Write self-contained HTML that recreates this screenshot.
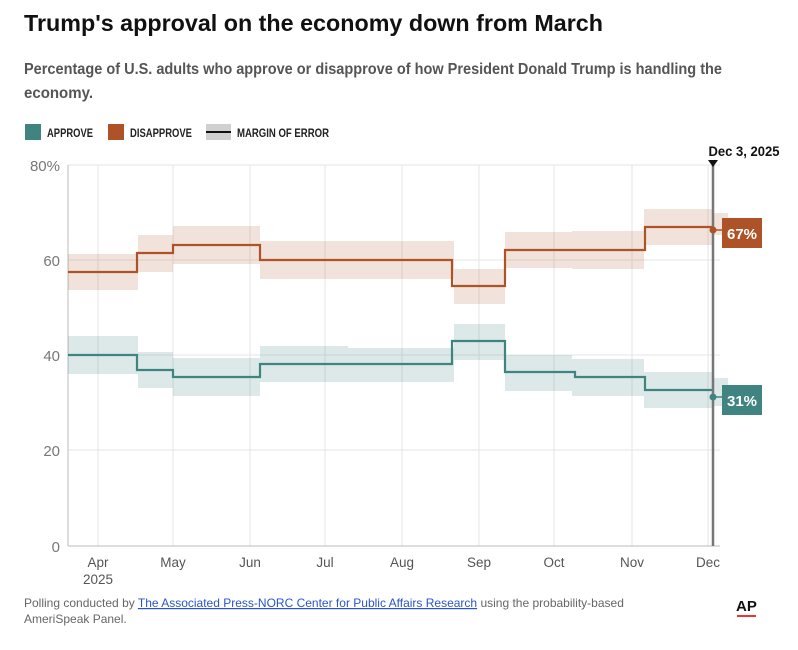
<!DOCTYPE html>
<html><head><meta charset="utf-8"><style>
body{margin:0;background:#fff;width:798px;height:645px;overflow:hidden;font-family:"Liberation Sans",sans-serif}
</style></head><body>
<svg width="798" height="645" xmlns="http://www.w3.org/2000/svg" font-family="Liberation Sans, sans-serif">
<text x="24" y="31" font-size="23" font-weight="bold" fill="#111" textLength="579" lengthAdjust="spacingAndGlyphs">Trump's approval on the economy down from March</text>
<text x="24" y="74" font-size="15.5" font-weight="bold" fill="#555" textLength="698" lengthAdjust="spacingAndGlyphs">Percentage of U.S. adults who approve or disapprove of how President Donald Trump is handling the</text>
<text x="24" y="98" font-size="15.5" font-weight="bold" fill="#555" textLength="69" lengthAdjust="spacingAndGlyphs">economy.</text>
<rect x="25" y="124" width="16" height="16" fill="#3f8480"/>
<text x="47" y="137" font-size="11.5" font-weight="bold" fill="#222" textLength="46" lengthAdjust="spacingAndGlyphs">APPROVE</text>
<rect x="108" y="124" width="16" height="16" fill="#ae5328"/>
<text x="130" y="137" font-size="11.5" font-weight="bold" fill="#222" textLength="62" lengthAdjust="spacingAndGlyphs">DISAPPROVE</text>
<rect x="206" y="124" width="25" height="16" fill="#d0d0d0"/>
<line x1="206" y1="132" x2="231" y2="132" stroke="#111" stroke-width="2"/>
<text x="237" y="137" font-size="11.5" font-weight="bold" fill="#222" textLength="92" lengthAdjust="spacingAndGlyphs">MARGIN OF ERROR</text>
<g stroke="#e6e6e6" stroke-width="1">
<line x1="68" y1="165" x2="720" y2="165"/><line x1="68" y1="260" x2="720" y2="260"/>
<line x1="68" y1="355" x2="720" y2="355"/><line x1="68" y1="450" x2="720" y2="450"/>
<line x1="98" y1="165" x2="98" y2="546"/><line x1="173" y1="165" x2="173" y2="546"/>
<line x1="250" y1="165" x2="250" y2="546"/><line x1="325" y1="165" x2="325" y2="546"/>
<line x1="402" y1="165" x2="402" y2="546"/><line x1="479" y1="165" x2="479" y2="546"/>
<line x1="554" y1="165" x2="554" y2="546"/><line x1="632" y1="165" x2="632" y2="546"/>
<line x1="708" y1="165" x2="708" y2="546"/>
</g>
<line x1="68" y1="165" x2="68" y2="546" stroke="#bbb"/>
<line x1="68" y1="546" x2="720" y2="546" stroke="#bbb"/>
<g font-size="15" fill="#777" text-anchor="end">
<text x="60" y="171">80%</text><text x="60" y="266">60</text><text x="60" y="361">40</text><text x="60" y="456">20</text><text x="60" y="552">0</text>
</g>
<g font-size="13.5" fill="#555" text-anchor="middle">
<text x="98" y="567">Apr</text><text x="98" y="584">2025</text><text x="173" y="567">May</text><text x="250" y="567">Jun</text>
<text x="325" y="567">Jul</text><text x="402" y="567">Aug</text><text x="479" y="567">Sep</text><text x="554" y="567">Oct</text>
<text x="632" y="567">Nov</text><text x="708" y="567">Dec</text>
</g>
<g fill="#ae5328" fill-opacity="0.17">
<rect x="68" y="254" width="70" height="36"/>
<rect x="138" y="235" width="35" height="37"/>
<rect x="173" y="226" width="87" height="38"/>
<rect x="260" y="241" width="88" height="38"/>
<rect x="348" y="241" width="106" height="38"/>
<rect x="454" y="269" width="51" height="35"/>
<rect x="505" y="232" width="67" height="36"/>
<rect x="572" y="231" width="72" height="38"/>
<rect x="644" y="209" width="69" height="36"/>
<rect x="713" y="213" width="15" height="22"/>
</g>
<g fill="#3f8480" fill-opacity="0.18">
<rect x="68" y="336" width="70" height="38"/>
<rect x="138" y="352" width="35" height="36"/>
<rect x="173" y="358" width="87" height="38"/>
<rect x="260" y="346" width="88" height="36"/>
<rect x="348" y="348" width="106" height="34"/>
<rect x="454" y="324" width="51" height="36"/>
<rect x="505" y="355" width="67" height="36"/>
<rect x="572" y="359" width="72" height="37"/>
<rect x="644" y="372" width="69" height="36"/>
<rect x="713" y="378" width="15" height="28"/>
</g>
<polyline fill="none" stroke="#ae5328" stroke-width="2.2" points="68,272 137,272 137,253 173,253 173,245 260,245 260,260 452,260 452,286 505,286 505,250 645,250 645,227 713,227"/>
<polyline fill="none" stroke="#3f8480" stroke-width="2.2" points="68,355 137,355 137,370 173,370 173,377 260,377 260,364 452,364 452,341 505,341 505,372 575,372 575,377 645,377 645,390 713,390"/>
<line x1="713" y1="165" x2="713" y2="546" stroke="#777" stroke-width="2.5"/>
<polygon points="708,160 718,160 713,167" fill="#111"/>
<text x="744" y="156" font-size="14" font-weight="bold" fill="#111" text-anchor="middle" textLength="71" lengthAdjust="spacingAndGlyphs">Dec 3, 2025</text>
<line x1="713" y1="230" x2="722" y2="230" stroke="#ae5328" stroke-width="1.5"/>
<circle cx="713" cy="230" r="3.5" fill="#ae5328"/>
<rect x="722" y="218" width="40" height="30" fill="#ae5328"/>
<text x="742" y="239" font-size="15" font-weight="bold" fill="#fff" text-anchor="middle">67%</text>
<line x1="713" y1="397" x2="722" y2="397" stroke="#3f8480" stroke-width="1.5"/>
<circle cx="713" cy="397" r="3.5" fill="#3f8480"/>
<rect x="722" y="385" width="40" height="30" fill="#3f8480"/>
<text x="742" y="406" font-size="15" font-weight="bold" fill="#fff" text-anchor="middle">31%</text>
<text x="24" y="607" font-size="12" fill="#666">Polling conducted by <tspan fill="#2a55c8" text-decoration="underline">The Associated Press-NORC Center for Public Affairs Research</tspan> using the probability-based</text>
<text x="24" y="623" font-size="12" fill="#666">AmeriSpeak Panel.</text>
<text x="736" y="611" font-size="15" font-weight="bold" fill="#111">AP</text>
<line x1="737" y1="616" x2="756" y2="616" stroke="#e33" stroke-width="2"/>
</svg>
</body></html>
